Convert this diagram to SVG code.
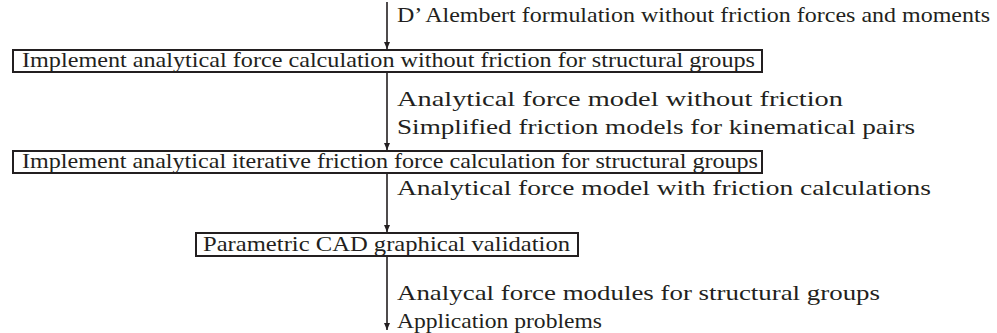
<svg xmlns="http://www.w3.org/2000/svg" width="997" height="333" viewBox="0 0 997 333">
  <defs>
    <marker id="arrow" markerWidth="8" markerHeight="10" refX="7" refY="5" orient="auto" markerUnits="userSpaceOnUse">
      <path d="M0,2 L7,5 L0,8 Z" fill="#231f20"/>
    </marker>
  </defs>
  <style>
    .box { fill: #fff; stroke: #231f20; stroke-width: 2; }
    .flow { stroke: #231f20; stroke-width: 1.6; fill: none; marker-end: url(#arrow); }
    .mid { text-anchor: middle; }
  </style>
  <rect width="997" height="333" fill="#fff"/>

  <g font-family="'Liberation Serif', 'DejaVu Serif', serif" font-size="21" fill="#231f20">
  <!-- flow connectors with their labels -->
  <g id="connectors">
    <line class="flow" x1="387" y1="2" x2="387" y2="49"/>
    <text x="397" y="22" textLength="593" lengthAdjust="spacingAndGlyphs">D’ Alembert formulation without friction forces and moments</text>

    <line class="flow" x1="387" y1="72" x2="387" y2="150"/>
    <text x="397" y="106" textLength="446" lengthAdjust="spacingAndGlyphs">Analytical force model without friction</text>
    <text x="397" y="134" textLength="518" lengthAdjust="spacingAndGlyphs">Simplified friction models for kinematical pairs</text>

    <line class="flow" x1="387" y1="173" x2="387" y2="232"/>
    <text x="397" y="195" textLength="534" lengthAdjust="spacingAndGlyphs">Analytical force model with friction calculations</text>

    <line class="flow" x1="387" y1="256" x2="387" y2="330"/>
    <text x="397" y="300" textLength="483" lengthAdjust="spacingAndGlyphs">Analycal force modules for structural groups</text>
    <text x="397" y="328" textLength="205" lengthAdjust="spacingAndGlyphs">Application problems</text>
  </g>

  <g id="node-force-no-friction">
    <rect class="box" x="13" y="50" width="749" height="22"/>
    <text class="mid" x="388.5" y="67" textLength="733" lengthAdjust="spacingAndGlyphs">Implement analytical force calculation without friction for structural groups</text>
  </g>

  <g id="node-iterative-friction">
    <rect class="box" x="13" y="151" width="749" height="22"/>
    <text class="mid" x="390" y="168" textLength="736" lengthAdjust="spacingAndGlyphs">Implement analytical iterative friction force calculation for structural groups</text>
  </g>

  <g id="node-cad-validation">
    <rect class="box" x="196" y="233" width="382" height="23"/>
    <text class="mid" x="386.5" y="251" textLength="367" lengthAdjust="spacingAndGlyphs">Parametric CAD graphical validation</text>
  </g>
  </g>
</svg>
